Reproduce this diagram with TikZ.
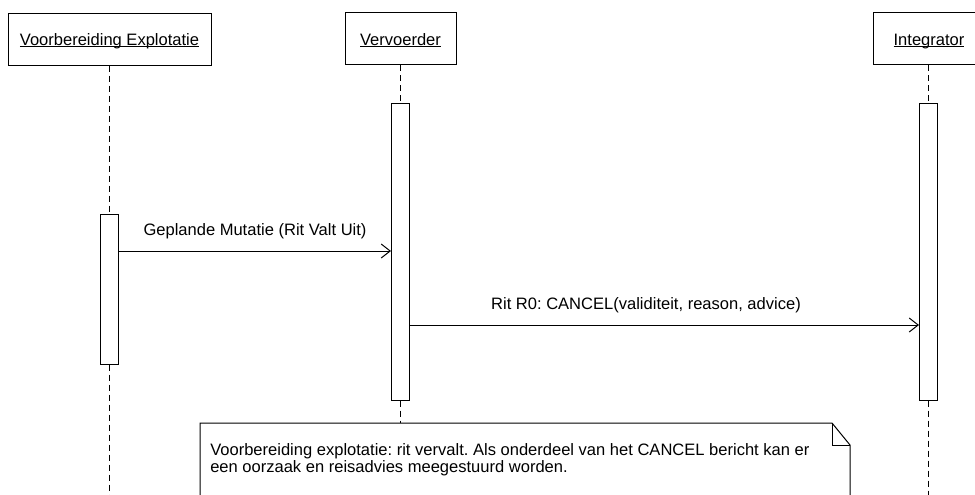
\documentclass[tikz,border=0pt]{standalone}
\usepackage{fontspec}
\setmainfont{Liberation Sans}
\usetikzlibrary{arrows.meta}
\frenchspacing
\newcommand\myul[1]{\setbox0\hbox{#1}\rlap{\rule[-1.6pt]{\wd0}{0.75pt}}\box0}
\tikzset{
  every node/.style={font=\fontsize{12.4}{12.75}\selectfont\frenchspacing, inner sep=0pt},
  hdr/.style={draw, line width=0.75pt, minimum height=39pt, fill=white},
  act/.style={draw, line width=0.75pt, fill=white, minimum width=13.5pt},
  life/.style={line width=0.75pt, dash pattern=on 4.5pt off 3pt},
  msg/.style={line width=0.75pt, -{Straight Barb[length=6.75pt, width=10.5pt, line width=0.75pt]}},
  lbl/.style={anchor=base},
}
\begin{document}
\begin{tikzpicture}[x=0.75pt, y=-0.75pt]
\useasboundingbox (0,0) rectangle (975,494);
\clip (0,0) rectangle (975,494);
% headers
\node[hdr, minimum width=152.25pt] (h1) at (109.5,39) {};
\node[lbl] at (109.5,45) {\myul{Voorbereiding Explotatie}};
\node[hdr, minimum width=83.25pt] (h2) at (400.5,38.5) {};
\node[lbl] at (400.5,45) {\myul{Vervoerder}};
\node[hdr, minimum width=84pt] (h3) at (929,38.5) {};
\node[lbl] at (929,45) {\myul{Integrator}};
% activations
\node[act, minimum height=112.5pt] (a1) at (109.5,289) {};
\node[act, minimum height=222.75pt] (a2) at (400.5,251.5) {};
\node[act, minimum height=222.75pt] (a3) at (928.5,251.5) {};
% note
\coordinate (ntl) at (200,423);
\coordinate (nf1) at (832,423);
\coordinate (nf2) at (850,445);
\coordinate (nfc) at (832,445);
\draw[line width=0.75pt, fill=white] (200,500) -- (ntl) -- (nf1) -- (nf2) -- (850,500);
\draw[line width=0.75pt] (nf1) -- (nfc) -- (nf2);
\node[anchor=base west, align=left] (note) at (210,472) {Voorbereiding explotatie: rit vervalt. Als onderdeel van het CANCEL bericht kan er\\een oorzaak en reisadvies meegestuurd worden.};
% lifelines
\coordinate (b1) at (109.5,500);
\coordinate (b3) at (928.5,500);
\coordinate (n2) at (400.5,423);
\draw[life] (h1.south) -- (a1.north);
\draw[life] (a1.south) -- (b1);
\draw[life] (h2.south) -- (a2.north);
\draw[life] (a2.south) -- (n2);
\draw[life] (h3.south -| a3.north) -- (a3.north);
\draw[life] (a3.south) -- (b3);
% messages
\draw[msg] (a1.east |- 0,251) -- (a2.west |- 0,251);
\node[lbl] at (255,235) {Geplande Mutatie (Rit Valt Uit)};
\draw[msg] (a2.east |- 0,325) -- (a3.west |- 0,325);
\node[lbl] at (646,309) {Rit R0: CANCEL(validiteit, reason, advice)};
\end{tikzpicture}
\end{document}
